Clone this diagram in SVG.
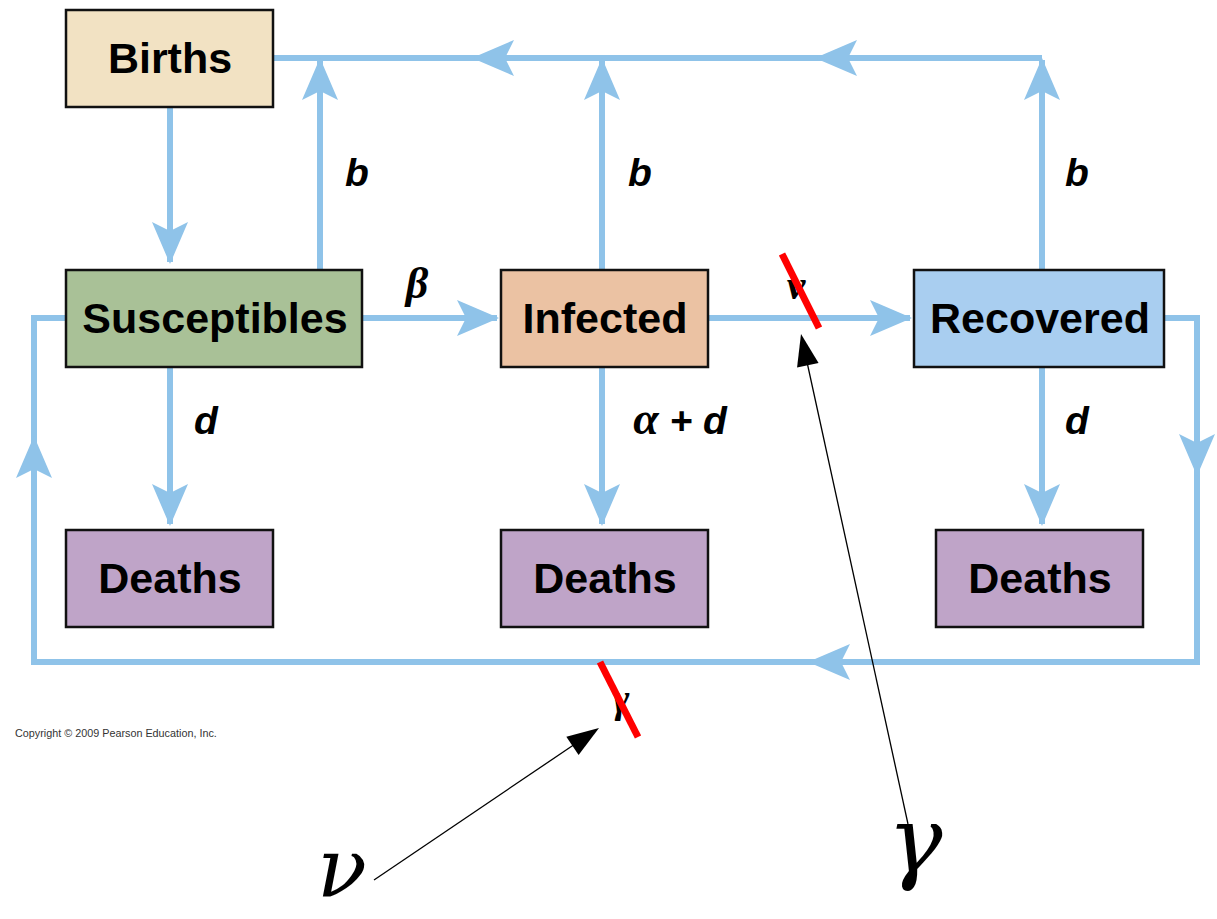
<svg xmlns="http://www.w3.org/2000/svg" xmlns:xlink="http://www.w3.org/1999/xlink" width="1217" height="919" viewBox="0 0 1217 919">
<style>
.box{stroke:#111;stroke-width:2.5}
.lbl{font-family:"Liberation Sans",Arial,sans-serif;font-weight:bold;font-size:43px;fill:#000;text-anchor:middle}
.var{font-family:"Liberation Sans",Arial,sans-serif;font-weight:bold;font-style:italic;font-size:39px;fill:#000;text-anchor:middle}
.gk{font-family:"Liberation Serif","Times New Roman",serif;font-weight:bold;font-style:italic;font-size:42px;fill:#000;text-anchor:middle}
.big{font-family:"DejaVu Serif","Liberation Serif",serif;font-style:italic;font-size:92px;fill:#000;text-anchor:middle}
.ln{fill:none;stroke:#8fc3e9;stroke-width:6}
.ah{fill:#8fc3e9}
.red{stroke:#ff0000;stroke-width:7}
.ptr{stroke:#000;stroke-width:1.3;fill:none}
</style>
<defs>
<path id="ah" d="M0,0 L-42,-18 L-33,0 L-42,18 Z"/>
<path id="bh" d="M0,0 L-32,-11 L-32,11 Z"/>
</defs>
<rect width="1217" height="919" fill="#fff"/>
<g id="connectors">
<path class="ln" d="M273,58 H1042"/>
<path class="ln" d="M170,107 V262"/>
<path class="ln" d="M320,270 V60"/>
<path class="ln" d="M602,270 V60"/>
<path class="ln" d="M1042,270 V60"/>
<path class="ln" d="M362,318 H497"/>
<path class="ln" d="M708,318 H910"/>
<path class="ln" d="M170,367 V524"/>
<path class="ln" d="M602,367 V524"/>
<path class="ln" d="M1042,367 V524"/>
<path class="ln" d="M1164,318 H1197 V662 H34 V318 H66"/>
<g class="ah">
<use xlink:href="#ah" transform="translate(472,58) rotate(180)"/>
<use xlink:href="#ah" transform="translate(815,58) rotate(180)"/>
<use xlink:href="#ah" transform="translate(170,264) rotate(90)"/>
<use xlink:href="#ah" transform="translate(320,58) rotate(-90)"/>
<use xlink:href="#ah" transform="translate(602,58) rotate(-90)"/>
<use xlink:href="#ah" transform="translate(1042,58) rotate(-90)"/>
<use xlink:href="#ah" transform="translate(499,318)"/>
<use xlink:href="#ah" transform="translate(912,318)"/>
<use xlink:href="#ah" transform="translate(170,526) rotate(90)"/>
<use xlink:href="#ah" transform="translate(602,526) rotate(90)"/>
<use xlink:href="#ah" transform="translate(1042,526) rotate(90)"/>
<use xlink:href="#ah" transform="translate(1197,476) rotate(90)"/>
<use xlink:href="#ah" transform="translate(808,662) rotate(180)"/>
<use xlink:href="#ah" transform="translate(34,436) rotate(-90)"/>
</g>
</g>
<g id="births"><rect class="box" x="66" y="10" width="207" height="97" fill="#f2e2c3"/><text class="lbl" x="170" y="73">Births</text></g>
<g id="susceptibles"><rect class="box" x="66" y="270" width="296" height="97" fill="#a9c197"/><text class="lbl" x="215" y="333">Susceptibles</text></g>
<g id="infected"><rect class="box" x="501" y="270" width="207" height="97" fill="#ebc2a3"/><text class="lbl" x="605" y="333">Infected</text></g>
<g id="recovered"><rect class="box" x="914" y="270" width="250" height="97" fill="#a9cef0"/><text class="lbl" x="1040" y="333">Recovered</text></g>
<g id="deaths1"><rect class="box" x="66" y="530" width="207" height="97" fill="#bfa4c8"/><text class="lbl" x="170" y="593">Deaths</text></g>
<g id="deaths2"><rect class="box" x="501" y="530" width="207" height="97" fill="#bfa4c8"/><text class="lbl" x="605" y="593">Deaths</text></g>
<g id="deaths3"><rect class="box" x="936" y="530" width="207" height="97" fill="#bfa4c8"/><text class="lbl" x="1040" y="593">Deaths</text></g>
<g id="labels">
<text class="var" x="357" y="186">b</text>
<text class="var" x="640" y="186">b</text>
<text class="var" x="1077" y="186">b</text>
<text class="var" x="206" y="434">d</text>
<text class="var" x="1077" y="434">d</text>
<text class="var" x="680" y="434"><tspan class="gk" style="font-size:46px">α</tspan> + d</text>
<text class="gk" x="417" y="298" style="font-size:44px">β</text>
<text class="gk" x="796" y="299" style="font-size:42px">ν</text>
<line class="red" x1="782" y1="254" x2="819" y2="328"/>
<text class="gk" x="621" y="712" style="font-size:40px">γ</text>
<line class="red" x1="600" y1="662" x2="638" y2="737"/>
</g>
<g id="pointers">
<line class="ptr" x1="374" y1="880" x2="575" y2="744"/>
<use xlink:href="#bh" transform="translate(599,728) rotate(-34)"/>
<line class="ptr" x1="908" y1="824" x2="807" y2="362"/>
<use xlink:href="#bh" transform="translate(801,334) rotate(-102.3)"/>
<text class="big" x="342" y="897" style="font-size:82px">ν</text>
<text class="big" x="915" y="872">γ</text>
</g>
<text x="15" y="737" style="font-family:'Liberation Sans',Arial,sans-serif;font-size:10.8px;fill:#333">Copyright © 2009 Pearson Education, Inc.</text>
</svg>
